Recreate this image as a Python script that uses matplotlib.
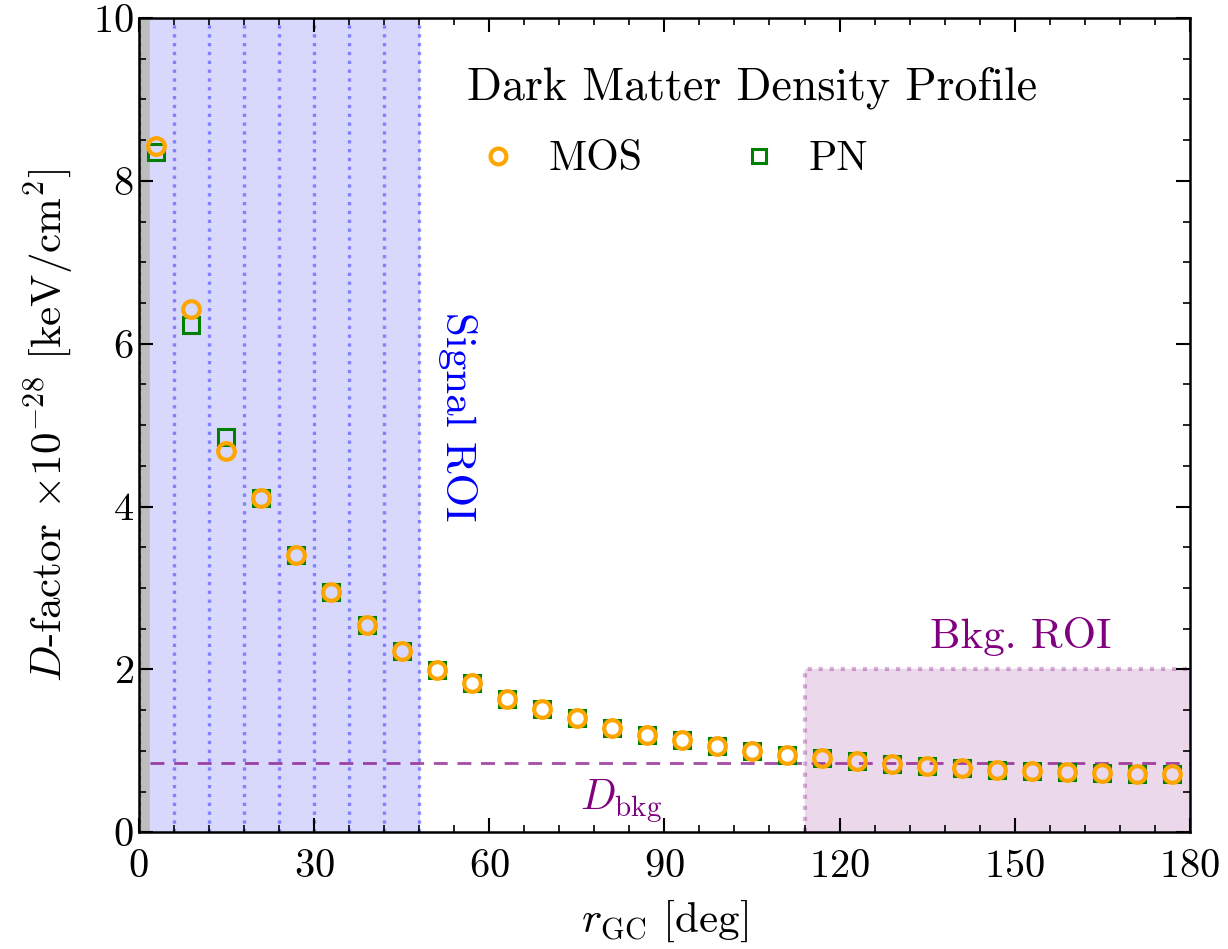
import numpy as np
import matplotlib
matplotlib.use("Agg")
import matplotlib.pyplot as plt

# -------------------------------
# Data
# -------------------------------
r_gc = [3, 9, 15, 21, 27, 33, 39, 45, 51, 57, 63, 69, 75, 81, 87,
        93, 99, 105, 111, 117, 123, 129, 135, 141, 147, 153, 159, 165, 171, 177]
d_mos = [8.43, 6.43, 4.68, 4.11, 3.40, 2.95, 2.55, 2.23, 1.99, 1.83, 1.64, 1.52,
         1.40, 1.28, 1.20, 1.13, 1.06, 1.00, 0.95, 0.91, 0.87, 0.84, 0.81, 0.79,
         0.77, 0.75, 0.74, 0.73, 0.72, 0.72]
d_pn = [8.36, 6.23, 4.86, 4.11, 3.40, 2.95, 2.55, 2.23, 1.99, 1.83, 1.64, 1.52,
        1.40, 1.28, 1.20, 1.13, 1.06, 1.00, 0.95, 0.91, 0.87, 0.84, 0.81, 0.79,
        0.77, 0.75, 0.74, 0.73, 0.72, 0.72]
d_bkg = 0.85
signal_edges = [0, 6, 12, 18, 24, 30, 36, 42, 48]
bkg_roi = (114, 180, 2.0)

# -------------------------------
# Style
# -------------------------------
plt.rcParams["font.family"] = "serif"
plt.rcParams["font.serif"] = ["cmr10"]
plt.rcParams["mathtext.fontset"] = "cm"
plt.rcParams["axes.unicode_minus"] = False
plt.rcParams["axes.formatter.use_mathtext"] = True

fig = plt.figure(figsize=(12.28, 9.49), dpi=100)
ax = fig.add_axes([0.113, 0.123, 0.856, 0.858])

# regions
ax.axvspan(0, 2, color="#bdbdbd", zorder=0)
ax.axvspan(2, signal_edges[-1], color="#d8d8fc", zorder=0)
for e in signal_edges:
    ax.axvline(e, color="blue", alpha=0.4, ls=":", lw=2.4, zorder=1)
ax.fill_between([bkg_roi[0], bkg_roi[1]], 0, bkg_roi[2], color="#ebd8eb", zorder=0)
ax.plot([bkg_roi[0], bkg_roi[0], bkg_roi[1]], [0, bkg_roi[2], bkg_roi[2]],
        color="purple", alpha=0.3, ls=":", lw=3, zorder=1)
ax.plot([2, 180], [d_bkg, d_bkg], color="purple", alpha=0.7, ls="--", lw=2,
        dashes=(5, 3.5), zorder=2)

# data
ax.plot(r_gc, d_pn, ls="none", marker="s", ms=11, mfc="none", mec="green",
        mew=2.2, label="PN", zorder=3)
ax.plot(r_gc, d_mos, ls="none", marker="o", ms=12, mfc="none", mec="orange",
        mew=3, label="MOS", zorder=4)

# annotations
ax.text(54.5, 5.1, "Signal ROI", color="blue", fontsize=31, rotation=-90,
        ha="center", va="center")
ax.text(151, 2.4, "Bkg. ROI", color="purple", fontsize=31, ha="center", va="center")
ax.text(82.5, 0.38, r"$D_{\rm bkg}$", color="purple", fontsize=30, ha="center", va="center")
ax.text(105, 9.14, "Dark Matter Density Profile", fontsize=33, ha="center", va="center")

h, l = ax.get_legend_handles_labels()
ax.legend([h[1], h[0]], [l[1], l[0]], ncol=2, frameon=False, fontsize=30,
          loc="center", bbox_to_anchor=(0.508, 0.826),
          markerscale=0.95, handlelength=1.0, handletextpad=0.7,
          columnspacing=2.3)

# axes
ax.set_xlim(0, 180)
ax.set_ylim(0, 10)
ax.set_xticks([0, 30, 60, 90, 120, 150, 180])
ax.set_xticks(np.arange(0, 181, 6), minor=True)
ax.set_yticks([0, 2, 4, 6, 8, 10])
ax.set_yticks(np.arange(0, 10.01, 0.5), minor=True)
ax.tick_params(which="both", direction="in", top=True, right=True, labelsize=29)
ax.tick_params(axis="x", which="major", pad=12)
ax.tick_params(which="major", length=10, width=1.5)
ax.tick_params(which="minor", length=5, width=1.2)
for s in ax.spines.values():
    s.set_linewidth(1.8)

ax.set_xlabel(r"$r_{\rm GC}$ [deg]", fontsize=31, labelpad=10)
ax.set_ylabel(r"$D$-factor $\times 10^{-28}$ [keV/cm$^2$]", fontsize=31, labelpad=12)

fig.savefig("out.png", dpi=100)
